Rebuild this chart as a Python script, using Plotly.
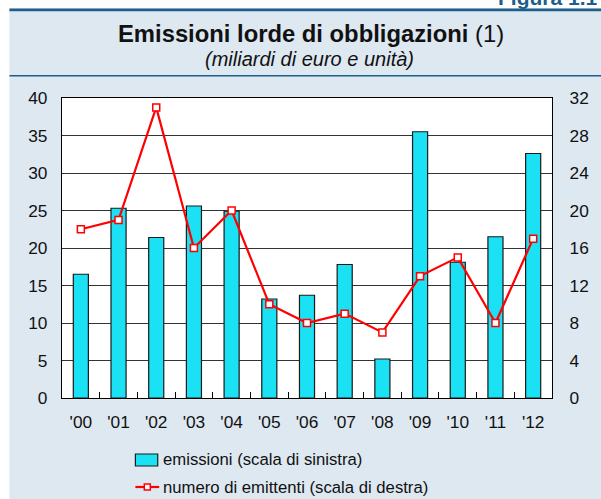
import plotly.graph_objects as go

# Dati
anni = ["'00", "'01", "'02", "'03", "'04", "'05", "'06", "'07", "'08", "'09", "'10", "'11", "'12"]
emissioni = [16.5, 25.3, 21.4, 25.6, 24.9, 13.2, 13.7, 17.8, 5.2, 35.5, 18.1, 21.5, 32.6]
emittenti = [18, 19, 31, 16, 20, 10, 8, 9, 7, 13, 15, 8, 17]

nome_barre = "emissioni (scala di sinistra)"
nome_linea = "numero di emittenti (scala di destra)"

W, H = 601, 499
ML, MR, MT, MB = 62, 45, 98, 101
PW, PH = W - ML - MR, H - MT - MB


def fx(px):
    return (px - ML) / PW


def fy(py):
    return (H - MB - py) / PH


FONT = "Liberation Sans, Arial, Helvetica, sans-serif"
PANEL = "#dde8f1"
DARK = "#1d5f8a"
CIANO = "#1be1f5"
ROSSO = "#ff0000"

fig = go.Figure()
fig.add_trace(go.Bar(
    x=anni, y=emissioni, name=nome_barre,
    marker=dict(color=CIANO, line=dict(color="#1a1a1a", width=1.2)),
    width=0.4, yaxis="y", showlegend=False,
))
fig.add_trace(go.Scatter(
    x=anni, y=emittenti, name=nome_linea,
    mode="lines+markers", yaxis="y2", showlegend=False,
    line=dict(color=ROSSO, width=2.2),
    marker=dict(symbol="square", size=7, color="white",
                line=dict(color=ROSSO, width=1.5)),
))

shapes = [
    # cornice bianca e filetti della testata
    dict(type="rect", xref="paper", yref="paper", x0=fx(-10), x1=fx(620),
         y0=fy(8.6), y1=fy(-10), fillcolor="white", line=dict(width=0), layer="below"),
    dict(type="rect", xref="paper", yref="paper", x0=fx(-10), x1=fx(9),
         y0=fy(520), y1=fy(-10), fillcolor="white", line=dict(width=0), layer="below"),
    dict(type="rect", xref="paper", yref="paper", x0=fx(9), x1=fx(620),
         y0=fy(11.3), y1=fy(8.6), fillcolor=DARK, line=dict(width=0), layer="below"),
    dict(type="line", xref="paper", yref="paper", x0=fx(9), x1=fx(620),
         y0=fy(75.8), y1=fy(75.8), line=dict(color=DARK, width=1.5), layer="below"),
    # legenda: campione barre
    dict(type="rect", xref="paper", yref="paper", x0=fx(136), x1=fx(158.5),
         y0=fy(466), y1=fy(454), fillcolor=CIANO, line=dict(color="#1a1a1a", width=1.2)),
    # legenda: campione linea con marcatore
    dict(type="line", xref="paper", yref="paper", x0=fx(136), x1=fx(160),
         y0=fy(487), y1=fy(487), line=dict(color=ROSSO, width=2.2)),
    dict(type="rect", xref="paper", yref="paper", x0=fx(145), x1=fx(151),
         y0=fy(490), y1=fy(484), fillcolor="white", line=dict(color=ROSSO, width=1.5)),
]

annotations = [
    dict(text="<b>Emissioni lorde di obbligazioni</b> (1)", xref="paper", yref="paper",
         x=fx(313), y=fy(33), xanchor="center", yanchor="middle", showarrow=False,
         font=dict(family=FONT, size=23.8, color="#111111")),
    dict(text="<i>(miliardi di euro e unità)</i>", xref="paper", yref="paper",
         x=fx(312), y=fy(59), xanchor="center", yanchor="middle", showarrow=False,
         font=dict(family=FONT, size=20, color="#111111")),
    dict(text="<b>Figura 1.1</b>", xref="paper", yref="paper",
         x=fx(500), y=fy(11), xanchor="left", yanchor="bottom", showarrow=False,
         font=dict(family=FONT, size=21, color=DARK)),
    dict(text=nome_barre, xref="paper", yref="paper",
         x=fx(162), y=fy(460), xanchor="left", yanchor="middle", showarrow=False,
         font=dict(family=FONT, size=16.7, color="#111111")),
    dict(text=nome_linea, xref="paper", yref="paper",
         x=fx(162), y=fy(487), xanchor="left", yanchor="middle", showarrow=False,
         font=dict(family=FONT, size=16.7, color="#111111")),
]

fig.update_layout(
    width=W, height=H,
    margin=dict(l=ML, r=MR, t=MT, b=MB, pad=0),
    paper_bgcolor=PANEL, plot_bgcolor="white",
    font=dict(family=FONT, size=17.3, color="#111111"),
    showlegend=False,
    xaxis=dict(type="category", range=[-0.5, len(anni) - 0.5],
               showline=True, linecolor="black", linewidth=1.2,
               mirror=True, ticks="inside", ticklen=6, tickcolor="black",
               tickson="boundaries", showgrid=False, ticklabelstandoff=8),
    yaxis=dict(range=[0, 40], dtick=5, showgrid=True, gridcolor="#333333", gridwidth=1,
               showline=True, linecolor="black", linewidth=1.2, ticks="",
               zeroline=False, ticklabelstandoff=10),
    yaxis2=dict(range=[0, 32], dtick=4, overlaying="y", side="right", showgrid=False,
                showline=True, linecolor="black", linewidth=1.2, ticks="",
                zeroline=False, ticklabelstandoff=13),
    shapes=shapes,
    annotations=annotations,
)

fig.write_html("out.html")
